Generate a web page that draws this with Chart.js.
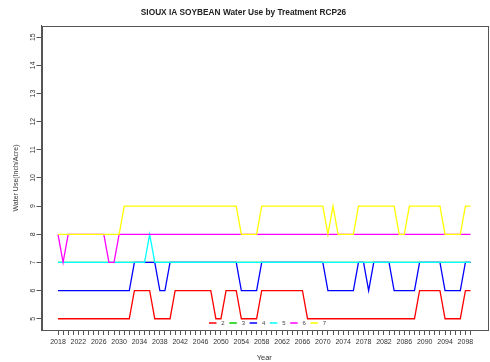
<!DOCTYPE html>
<html>
<head>
<meta charset="utf-8">
<title>SIOUX IA SOYBEAN Water Use by Treatment RCP26</title>
<script src="https://cdn.jsdelivr.net/npm/chart.js@4/dist/chart.umd.min.js"></script>
<style>
    body { margin: 0; background: #ffffff; }
    #grafico { display: block; }
</style>
</head>
<body>
<canvas id="grafico" width="490" height="362"></canvas>
<script>

// Years on the x axis (one point per year)
var anos = [];
for (var a = 2018; a <= 2099; a++) {
    anos.push(a);
}

// Treatment names and colours (R palette 2..7)
var tratamentos = ["2", "3", "4", "5", "6", "7"];
var cores = ["#FF0000", "#00CD00", "#0000FF", "#00FFFF", "#FF00FF", "#FFFF00"];

// Water use (inch/acre) per treatment, 2018..2099, ten years per row
var trat2 = [
    5, 5, 5, 5, 5, 5, 5, 5, 5, 5,
    5, 5, 5, 5, 5, 6, 6, 6, 6, 5,
    5, 5, 5, 6, 6, 6, 6, 6, 6, 6,
    6, 5, 5, 6, 6, 6, 5, 5, 5, 5,
    6, 6, 6, 6, 6, 6, 6, 6, 6, 5,
    5, 5, 5, 5, 5, 5, 5, 5, 5, 5,
    5, 5, 5, 5, 5, 5, 5, 5, 5, 5,
    5, 6, 6, 6, 6, 6, 5, 5, 5, 5,
    6, 6
];
var trat3 = [
    7, 7, 7, 7, 7, 7, 7, 7, 7, 7,
    7, 7, 7, 7, 7, 7, 7, 7, 7, 7,
    7, 7, 7, 7, 7, 7, 7, 7, 7, 7,
    7, 7, 7, 7, 7, 7, 7, 7, 7, 7,
    7, 7, 7, 7, 7, 7, 7, 7, 7, 7,
    7, 7, 7, 7, 7, 7, 7, 7, 7, 7,
    7, 7, 7, 7, 7, 7, 7, 7, 7, 7,
    7, 7, 7, 7, 7, 7, 7, 7, 7, 7,
    7, 7
];
var trat4 = [
    6, 6, 6, 6, 6, 6, 6, 6, 6, 6,
    6, 6, 6, 6, 6, 7, 7, 7, 7, 7,
    6, 6, 7, 7, 7, 7, 7, 7, 7, 7,
    7, 7, 7, 7, 7, 7, 6, 6, 6, 6,
    7, 7, 7, 7, 7, 7, 7, 7, 7, 7,
    7, 7, 7, 6, 6, 6, 6, 6, 6, 7,
    7, 6, 7, 7, 7, 7, 6, 6, 6, 6,
    6, 7, 7, 7, 7, 7, 6, 6, 6, 6,
    7, 7
];
var trat5 = [
    7, 7, 7, 7, 7, 7, 7, 7, 7, 7,
    7, 7, 7, 7, 7, 7, 7, 7, 8, 7,
    7, 7, 7, 7, 7, 7, 7, 7, 7, 7,
    7, 7, 7, 7, 7, 7, 7, 7, 7, 7,
    7, 7, 7, 7, 7, 7, 7, 7, 7, 7,
    7, 7, 7, 7, 7, 7, 7, 7, 7, 7,
    7, 7, 7, 7, 7, 7, 7, 7, 7, 7,
    7, 7, 7, 7, 7, 7, 7, 7, 7, 7,
    7, 7
];
var trat6 = [
    8, 7, 8, 8, 8, 8, 8, 8, 8, 8,
    7, 7, 8, 8, 8, 8, 8, 8, 8, 8,
    8, 8, 8, 8, 8, 8, 8, 8, 8, 8,
    8, 8, 8, 8, 8, 8, 8, 8, 8, 8,
    8, 8, 8, 8, 8, 8, 8, 8, 8, 8,
    8, 8, 8, 8, 8, 8, 8, 8, 8, 8,
    8, 8, 8, 8, 8, 8, 8, 8, 8, 8,
    8, 8, 8, 8, 8, 8, 8, 8, 8, 8,
    8, 8
];
var trat7 = [
    8, 8, 8, 8, 8, 8, 8, 8, 8, 8,
    8, 8, 8, 9, 9, 9, 9, 9, 9, 9,
    9, 9, 9, 9, 9, 9, 9, 9, 9, 9,
    9, 9, 9, 9, 9, 9, 8, 8, 8, 8,
    9, 9, 9, 9, 9, 9, 9, 9, 9, 9,
    9, 9, 9, 8, 9, 8, 8, 8, 8, 9,
    9, 9, 9, 9, 9, 9, 9, 8, 8, 9,
    9, 9, 9, 9, 9, 9, 8, 8, 8, 8,
    9, 9
];

// Tick values of the axes
var ticksY = [5, 6, 7, 8, 9, 10, 11, 12, 13, 14, 15];
var passoRotuloX = 4;

var series = [trat2, trat3, trat4, trat5, trat6, trat7];

Chart.defaults.font.family = "'Liberation Sans', Arial, sans-serif";
Chart.defaults.color = "#333333";

// Box around the plotting region, like R's box()
var caixa = {
    id: "caixa",
    afterDatasetsDraw: function (chart) {
        var area = chart.chartArea;
        var ctx = chart.ctx;
        ctx.save();
        ctx.strokeStyle = "#555555";
        ctx.lineWidth = 1;
        ctx.strokeRect(Math.round(area.left) + 0.5, Math.round(area.top) + 0.5,
            Math.round(area.right - area.left), Math.round(area.bottom - area.top));
        ctx.restore();
    }
};

// Small horizontal legend inside the plot, near its bottom
var legendaR = {
    id: "legendaR",
    afterDraw: function (chart) {
        var area = chart.chartArea;
        var ctx = chart.ctx;
        var passo = 20.3;
        var inicio = Math.round((area.left + area.right) / 2 + 6 - passo * tratamentos.length / 2);
        var y = Math.round(area.bottom - 7);
        ctx.save();
        ctx.font = "6px 'Liberation Sans', Arial, sans-serif";
        ctx.textAlign = "center";
        ctx.textBaseline = "middle";
        for (var i = 0; i < tratamentos.length; i++) {
            var x = inicio + i * passo;
            ctx.strokeStyle = cores[i];
            ctx.lineWidth = 1.5;
            ctx.beginPath();
            ctx.moveTo(x, y);
            ctx.lineTo(x + 7.5, y);
            ctx.stroke();
            ctx.fillStyle = "#444444";
            ctx.fillText(tratamentos[i], x + 14, y);
        }
        ctx.restore();
    }
};

var config = {
    type: "line",
    data: {
        datasets: series.map(function (s, i) {
            return {
                label: tratamentos[i],
                data: anos.map(function (ano, j) { return { x: ano, y: s[j] }; }),
                borderColor: cores[i],
                backgroundColor: cores[i],
                borderWidth: 1.3,
                pointRadius: 0,
                tension: 0,
                fill: false,
                // later treatments are drawn on top, as in the original
                order: series.length - 1 - i
            };
        })
    },
    options: {
        responsive: false,
        animation: false,
        devicePixelRatio: 1,
        layout: {
            padding: { left: 0, right: 3, top: 0, bottom: 0 }
        },
        plugins: {
            legend: { display: false },
            tooltip: { enabled: false },
            title: {
                display: true,
                text: "SIOUX IA SOYBEAN Water Use by Treatment RCP26",
                color: "#222222",
                font: { size: 8.3, weight: "bold" },
                padding: { top: 8, bottom: 8 }
            }
        },
        scales: {
            x: {
                type: "linear",
                min: 2014.76,
                max: 2102.24,
                afterBuildTicks: function (scale) {
                    scale.ticks = anos.map(function (a) { return { value: a }; });
                },
                afterFit: function (scale) {
                    scale.height = 32;
                },
                ticks: {
                    autoSkip: false,
                    maxRotation: 0,
                    minRotation: 0,
                    padding: 3,
                    font: { size: 7 },
                    callback: function (v) {
                        return (v - anos[0]) % passoRotuloX === 0 ? String(v) : "";
                    }
                },
                grid: { drawOnChartArea: false, drawTicks: true, tickLength: 5, color: "#555555" },
                border: { color: "#555555" },
                title: {
                    display: true,
                    text: "Year",
                    font: { size: 7.5 },
                    padding: { top: 0, bottom: 0 }
                }
            },
            y: {
                type: "linear",
                min: 4.6,
                max: 15.4,
                afterBuildTicks: function (scale) {
                    scale.ticks = ticksY.map(function (v) { return { value: v }; });
                },
                afterFit: function (scale) {
                    scale.width = 41.5;
                },
                ticks: {
                    minRotation: 90,
                    maxRotation: 90,
                    crossAlign: "center",
                    padding: 0,
                    font: { size: 7 }
                },
                grid: { drawOnChartArea: false, drawTicks: true, tickLength: 5, color: "#555555" },
                border: { color: "#555555" },
                title: {
                    display: true,
                    text: "Water Use(Inch/Acre)",
                    font: { size: 7 },
                    padding: { top: 11.5, bottom: 0 }
                }
            }
        }
    },
    plugins: [caixa, legendaR]
};

var grafico = new Chart(document.getElementById("grafico"), config);
</script>
</body>
</html>
